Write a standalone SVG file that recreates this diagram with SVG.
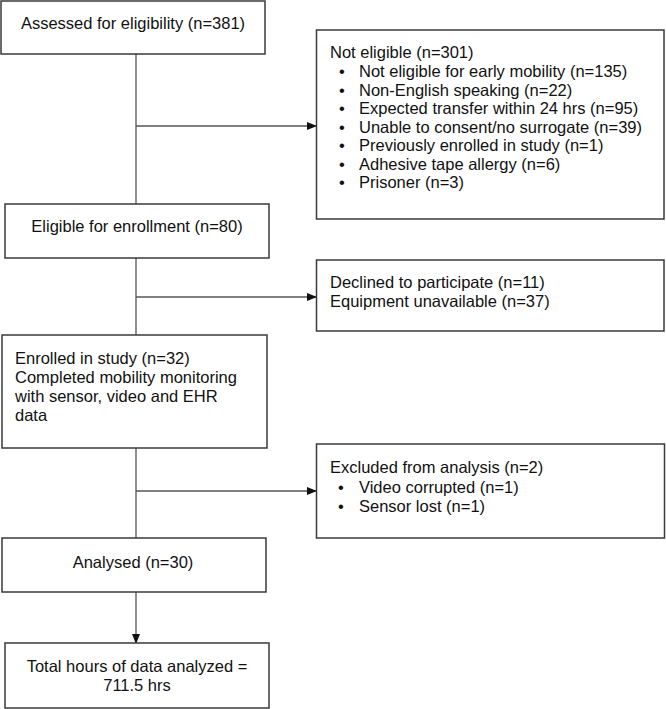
<svg xmlns="http://www.w3.org/2000/svg" width="666" height="709" viewBox="0 0 666 709">
<style>
.box{fill:#fff;stroke:#3a3a3a;stroke-width:1.5}
.t{font-family:"Liberation Sans",Arial,sans-serif;font-size:16.5px;fill:#111}
.c{text-anchor:middle}
.ln{stroke:#555;stroke-width:1.3;fill:none}
</style>
<defs>
<marker id="ah" markerWidth="10" markerHeight="10" refX="9" refY="5" orient="auto" markerUnits="userSpaceOnUse">
<path d="M0,1 L10,5 L0,9 Z" fill="#111"/>
</marker>
</defs>
<rect width="666" height="709" fill="#fff"/>
<g id="connectors">
<line class="ln" x1="136" y1="54" x2="136" y2="204"/>
<line class="ln" x1="136" y1="126" x2="316" y2="126" marker-end="url(#ah)"/>
<line class="ln" x1="136" y1="258" x2="136" y2="335"/>
<line class="ln" x1="136" y1="297" x2="316" y2="297" marker-end="url(#ah)"/>
<line class="ln" x1="136" y1="448" x2="136" y2="538"/>
<line class="ln" x1="136" y1="491" x2="316" y2="491" marker-end="url(#ah)"/>
<line class="ln" x1="136" y1="592" x2="136" y2="643" marker-end="url(#ah)"/>
</g>
<g id="assessed">
<rect class="box" x="1" y="1" width="264" height="53"/>
<text class="t c" x="133" y="29">Assessed for eligibility (n=381)</text>
</g>
<g id="not-eligible">
<rect class="box" x="316.5" y="30" width="347.5" height="189"/>
<text class="t" x="330" y="58">Not eligible (n=301)</text>
<g class="t">
<text x="342" y="77" class="c">•</text><text x="359" y="77">Not eligible for early mobility (n=135)</text>
<text x="342" y="95.5" class="c">•</text><text x="359" y="95.5">Non-English speaking (n=22)</text>
<text x="342" y="114" class="c">•</text><text x="359" y="114">Expected transfer within 24 hrs (n=95)</text>
<text x="342" y="132.5" class="c">•</text><text x="359" y="132.5">Unable to consent/no surrogate (n=39)</text>
<text x="342" y="151" class="c">•</text><text x="359" y="151">Previously enrolled in study (n=1)</text>
<text x="342" y="169.5" class="c">•</text><text x="359" y="169.5">Adhesive tape allergy (n=6)</text>
<text x="342" y="188" class="c">•</text><text x="359" y="188">Prisoner (n=3)</text>
</g>
</g>
<g id="eligible">
<rect class="box" x="5" y="204" width="264" height="54"/>
<text class="t c" x="137" y="232">Eligible for enrollment (n=80)</text>
</g>
<g id="declined">
<rect class="box" x="316.5" y="260" width="347.5" height="71"/>
<text class="t" x="330" y="288">Declined to participate (n=11)</text>
<text class="t" x="330" y="307">Equipment unavailable (n=37)</text>
</g>
<g id="enrolled">
<rect class="box" x="2" y="335" width="265" height="113"/>
<text class="t" x="15" y="364">Enrolled in study (n=32)</text>
<text class="t" x="15" y="383">Completed mobility monitoring</text>
<text class="t" x="15" y="402">with sensor, video and EHR</text>
<text class="t" x="15" y="421">data</text>
</g>
<g id="excluded">
<rect class="box" x="316.5" y="444" width="348" height="94"/>
<text class="t" x="330" y="473">Excluded from analysis (n=2)</text>
<text class="t c" x="341" y="493">•</text><text class="t" x="359" y="493">Video corrupted (n=1)</text>
<text class="t c" x="341" y="512">•</text><text class="t" x="359" y="512">Sensor lost (n=1)</text>
</g>
<g id="analysed">
<rect class="box" x="2" y="538" width="264" height="54"/>
<text class="t c" x="133" y="568">Analysed (n=30)</text>
</g>
<g id="total">
<rect class="box" x="5" y="643" width="264" height="65"/>
<text class="t c" x="137" y="672">Total hours of data analyzed =</text>
<text class="t c" x="137" y="691">711.5 hrs</text>
</g>
</svg>
